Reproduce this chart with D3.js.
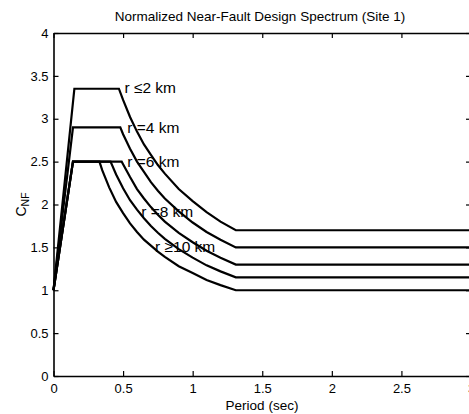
<!DOCTYPE html>
<html>
<head>
<meta charset="utf-8">
<script src="https://cdn.jsdelivr.net/npm/d3@7"></script>
<style>
  html, body { margin: 0; padding: 0; background: #fff; overflow: hidden; }
  svg { display: block; }
  svg text { font-family: "Liberation Sans", Arial, Helvetica, sans-serif; fill: #000; }
</style>
</head>
<body>
<svg id="chart"></svg>
<script>
// --- Data ---
// each curve: [period (sec), C_NF]
const curveR2 = [[0, 1.0], [0.15, 3.35], [0.47, 3.35], [0.5, 3.22], [0.55, 3.02], [0.6, 2.85], [0.65, 2.70],
  [0.7, 2.58], [0.75, 2.46], [0.8, 2.36], [0.9, 2.18], [1.0, 2.04], [1.1, 1.91], [1.2, 1.80], [1.31, 1.70], [3.0, 1.70]];
const curveR4 = [[0, 1.0], [0.14, 2.9], [0.48, 2.9], [0.5, 2.82], [0.55, 2.65], [0.6, 2.50], [0.65, 2.38],
  [0.7, 2.26], [0.75, 2.16], [0.8, 2.07], [0.9, 1.92], [1.0, 1.79], [1.1, 1.68], [1.2, 1.59], [1.31, 1.50], [3.0, 1.50]];
const curveR6 = [[0, 1.0], [0.14, 2.5], [0.49, 2.5], [0.5, 2.47], [0.55, 2.32], [0.6, 2.18], [0.65, 2.07],
  [0.7, 1.97], [0.75, 1.88], [0.8, 1.80], [0.9, 1.67], [1.0, 1.56], [1.1, 1.46], [1.2, 1.38], [1.31, 1.30], [3.0, 1.30]];
const curveR8 = [[0, 1.0], [0.14, 2.5], [0.41, 2.5], [0.45, 2.35], [0.5, 2.19], [0.55, 2.05], [0.6, 1.94], [0.65, 1.84],
  [0.7, 1.75], [0.75, 1.67], [0.8, 1.60], [0.9, 1.48], [1.0, 1.38], [1.1, 1.29], [1.2, 1.22], [1.31, 1.15], [3.0, 1.15]];
const curveR10 = [[0, 1.0], [0.14, 2.5], [0.33, 2.5], [0.35, 2.40], [0.4, 2.20], [0.45, 2.03], [0.5, 1.90], [0.55, 1.78],
  [0.6, 1.68], [0.65, 1.59], [0.7, 1.52], [0.75, 1.45], [0.8, 1.39], [0.9, 1.28], [1.0, 1.20], [1.1, 1.12], [1.2, 1.06],
  [1.31, 1.00], [3.0, 1.00]];

const curves = [curveR2, curveR4, curveR6, curveR8, curveR10];

// label text and the (period, C_NF) point where each label starts
const labelTexts = ["r \u22642 km", "r =4 km", "r =6 km", "r =8 km", "r \u226510 km"];
const labelAnchors = [[0.51, 3.36], [0.53, 2.90], [0.53, 2.50], [0.63, 1.92], [0.73, 1.51]];

const xTicks = [0, 0.5, 1, 1.5, 2, 2.5, 3];
const yTicks = [0, 0.5, 1, 1.5, 2, 2.5, 3, 3.5, 4];

const titleText = "Normalized Near-Fault Design Spectrum (Site 1)";
const xLabelText = "Period (sec)";

// --- Layout ---
// the original figure is cropped on the right: the x = 3 edge sits just past the picture
const width = 469;
const height = 414;
const margin = { top: 33, right: -2, bottom: 38, left: 53.5 };
const innerWidth = width - margin.left - margin.right;
const innerHeight = height - margin.top - margin.bottom;

const svg = d3.select("#chart").attr("width", width).attr("height", height);

const g = svg.append("g").attr("transform", `translate(${margin.left},${margin.top})`);

const x = d3.scaleLinear().domain([0, 3]).range([0, innerWidth]);
const y = d3.scaleLinear().domain([0, 4]).range([innerHeight, 0]);

// MATLAB style: ticks point inward, box on all sides
const tickLen = 5;
const fmt = d => String(d);

const xAxisG = g.append("g")
  .attr("transform", `translate(0,${innerHeight})`)
  .call(d3.axisBottom(x).tickValues(xTicks).tickFormat(fmt).tickSizeInner(-tickLen).tickSizeOuter(0).tickPadding(8));

const yAxisG = g.append("g")
  .call(d3.axisLeft(y).tickValues(yTicks).tickFormat(fmt).tickSizeInner(-tickLen).tickSizeOuter(0).tickPadding(5));

const topAxisG = g.append("g")
  .call(d3.axisTop(x).tickValues(xTicks).tickSizeInner(-tickLen).tickSizeOuter(0));

const rightAxisG = g.append("g")
  .attr("transform", `translate(${innerWidth},0)`)
  .call(d3.axisRight(y).tickValues(yTicks).tickSizeInner(-tickLen).tickSizeOuter(0));

// box sides carry ticks only
topAxisG.selectAll(".tick text").remove();
rightAxisG.selectAll(".tick text").remove();

[xAxisG, yAxisG, topAxisG, rightAxisG].forEach(a => {
  a.select(".domain").attr("stroke", "#000").attr("stroke-width", 1.6);
  a.selectAll(".tick line").attr("stroke", "#000").attr("stroke-width", 1.2);
  a.selectAll(".tick text").attr("font-size", 13).attr("fill", "#000")
    .style("font-family", "'Liberation Sans', Arial, sans-serif");
});

// --- Curves ---
const line = d3.line()
  .x(d => x(d[0]))
  .y(d => y(d[1]));

g.selectAll(".curve")
  .data(curves)
  .enter()
  .append("path")
  .attr("class", "curve")
  .attr("d", line)
  .attr("fill", "none")
  .attr("stroke", "#000")
  .attr("stroke-width", 2.2)
  .attr("stroke-linejoin", "miter");

// --- Curve labels ---
g.selectAll(".curve-label")
  .data(labelTexts)
  .enter()
  .append("text")
  .attr("class", "curve-label")
  .attr("x", (d, i) => x(labelAnchors[i][0]))
  .attr("y", (d, i) => y(labelAnchors[i][1]))
  .attr("dy", "0.35em")
  .attr("font-size", 15.5)
  .text(d => d);

// --- Title and axis labels ---
svg.append("text")
  .attr("x", 260)
  .attr("y", 21)
  .attr("text-anchor", "middle")
  .attr("font-size", 13.5)
  .text(titleText);

svg.append("text")
  .attr("x", 262)
  .attr("y", 410)
  .attr("text-anchor", "middle")
  .attr("font-size", 13.5)
  .text(xLabelText);

const yLab = svg.append("text")
  .attr("transform", `translate(26,${margin.top + y(2)}) rotate(-90)`)
  .attr("text-anchor", "middle")
  .attr("font-size", 14);
yLab.append("tspan").text("C");
yLab.append("tspan").attr("font-size", 10.5).attr("dy", 3).text("NF");
</script>
</body>
</html>
